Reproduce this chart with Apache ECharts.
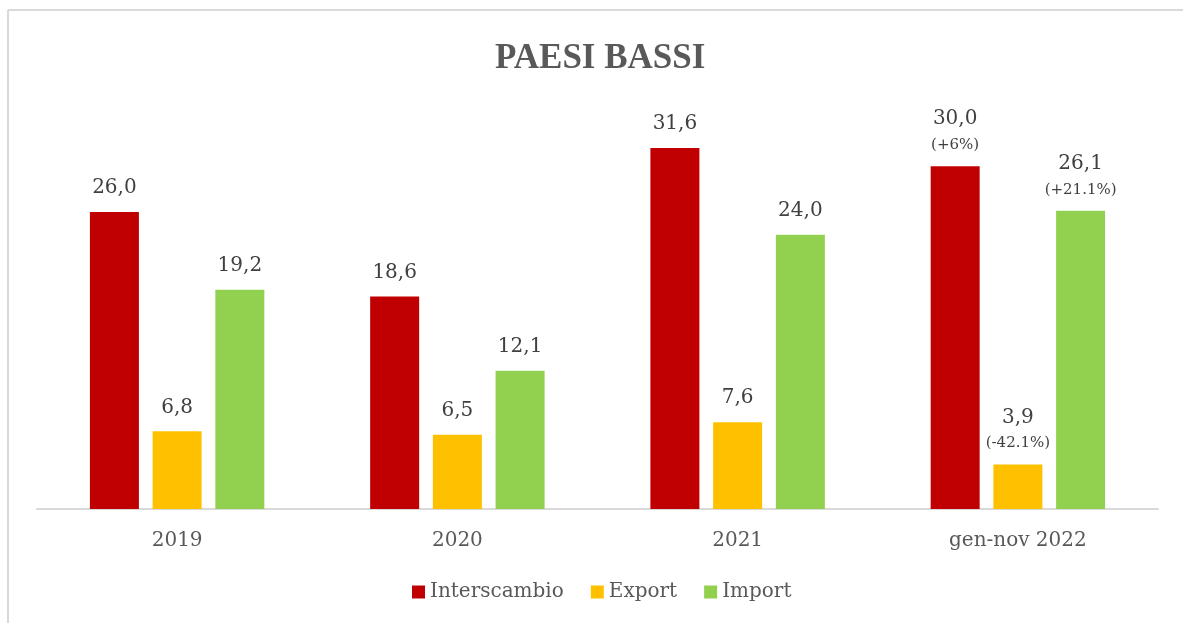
<!DOCTYPE html>
<html>
<head>
<meta charset="utf-8">
<script src="https://cdn.jsdelivr.net/npm/echarts@6/dist/echarts.min.js"></script>
<style>
html,body{margin:0;padding:0;background:#fff;}
#chart{width:1183px;height:623px;}
</style>
</head>
<body>
<div id="chart"></div>
<script>
const categories = ['2019', '2020', '2021', 'gen-nov 2022'];
const interscambio = [26.0, 18.6, 31.6, 30.0];
const exportVals = [6.8, 6.5, 7.6, 3.9];
const importVals = [19.2, 12.1, 24.0, 26.1];
const interscambioVar = ['', '', '', '(+6%)'];
const exportVar = ['', '', '', '(-42.1%)'];
const importVar = ['', '', '', '(+21.1%)'];

const FONT = 'DejaVu Serif';

function fmt(v) { return v.toFixed(1).replace('.', ','); }

function buildData(vals, vars) {
  return vals.map((v, i) => ({
    value: v,
    label: vars[i]
      ? { formatter: '{c|' + fmt(v) + '}\n{b|' + vars[i] + '}', distance: 10 }
      : { formatter: '{a|' + fmt(v) + '}', distance: 12 }
  }));
}

const labelBase = {
  show: true,
  position: 'top',
  rich: {
    a: { fontFamily: FONT, fontSize: 20, color: '#404040', lineHeight: 24 },
    c: { fontFamily: FONT, fontSize: 20, color: '#404040', lineHeight: 30 },
    b: { fontFamily: FONT, fontSize: 15, color: '#404040', lineHeight: 22 }
  }
};

const chart = echarts.init(document.getElementById('chart'));
chart.setOption({
  animation: false,
  backgroundColor: '#fff',
  title: {
    text: 'PAESI BASSI',
    left: 490,
    top: 36,
    textStyle: { fontFamily: 'Liberation Serif', fontWeight: 'bold', fontSize: 35, color: '#595959' }
  },
  graphic: [
    { type: 'line', shape: { x1: 8, y1: 10, x2: 1183, y2: 10 }, style: { stroke: '#d9d9d9', lineWidth: 2 } },
    { type: 'line', shape: { x1: 8, y1: 10, x2: 8, y2: 623 }, style: { stroke: '#d9d9d9', lineWidth: 2 } }
  ],
  legend: {
    bottom: 16,
    left: 407,
    itemWidth: 13,
    itemHeight: 13,
    itemGap: 27,
    icon: 'rect',
    textStyle: { fontFamily: FONT, fontSize: 20, color: '#595959' },
    data: ['Interscambio', 'Export', 'Import']
  },
  grid: { left: 37, right: 25, top: 52, bottom: 114 },
  xAxis: {
    type: 'category',
    data: categories,
    axisLine: { lineStyle: { color: '#d9d9d9', width: 2 } },
    axisTick: { show: false },
    axisLabel: { fontFamily: FONT, fontSize: 20, color: '#595959', margin: 22 }
  },
  yAxis: {
    type: 'value',
    min: 0,
    max: 40,
    show: false,
    splitLine: { show: false }
  },
  series: [
    { name: 'Interscambio', type: 'bar', barWidth: 49, barGap: '28%', itemStyle: { color: '#C00000' }, label: labelBase, data: buildData(interscambio, interscambioVar) },
    { name: 'Export', type: 'bar', barWidth: 49, barGap: '28%', itemStyle: { color: '#FFC000' }, label: labelBase, data: buildData(exportVals, exportVar) },
    { name: 'Import', type: 'bar', barWidth: 49, barGap: '28%', itemStyle: { color: '#92D050' }, label: labelBase, data: buildData(importVals, importVar) }
  ]
});
</script>
</body>
</html>
